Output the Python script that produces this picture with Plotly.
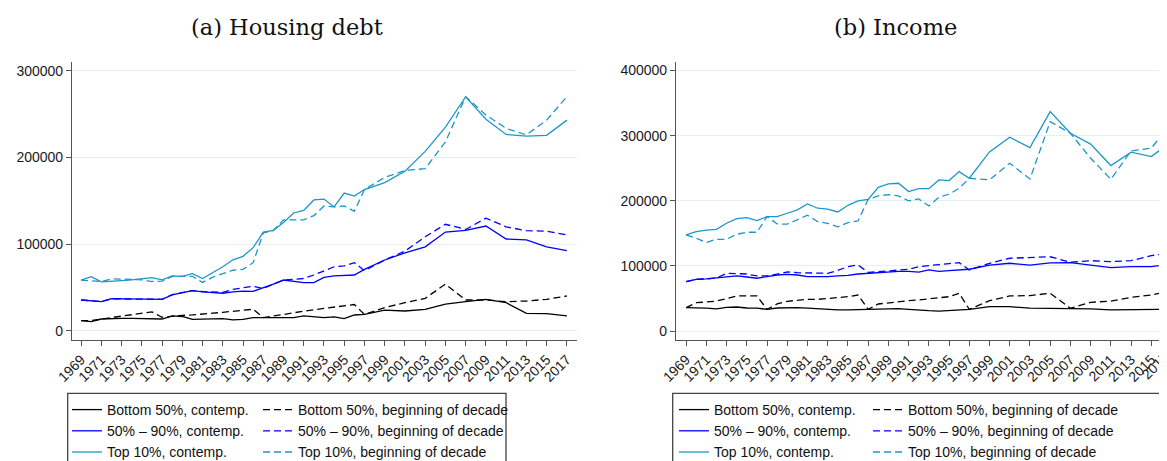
import plotly.graph_objects as go

# ---------------- data ----------------
years = list(range(1969, 1998)) + list(range(1999, 2018, 2))
tick_years = list(range(1969, 2018, 2))
tick_labels = [str(y) for y in tick_years]

series_names = ["Bottom 50%, contemp.", "50% \u2013 90%, contemp.", "Top 10%, contemp.",
                "Bottom 50%, beginning of decade", "50% \u2013 90%, beginning of decade",
                "Top 10%, beginning of decade"]

# (a) Housing debt, thousands
debt_bot_contemp = [11.9, 10.7, 13.8, 14.5, 14.6, 14.6, 14.6, 14.5, 13.8, 17.3, 16.7, 13.4, 13.8, 14.0, 14.2,
                    12.7, 13.4, 15.4, 15.4, 15.5, 15.5, 15.5, 17.3, 16.5, 15.5, 16.2, 14.2, 18.4, 19.2,
                    24.0, 23.0, 25.0, 31.0, 33.8, 36.5, 32.6, 20.4, 20.0, 17.3]
debt_mid_contemp = [35.7, 35.0, 33.8, 37.2, 37.0, 37.0, 37.0, 36.8, 36.5, 41.5, 44.0, 46.4, 45.0, 44.5, 43.5,
                    45.0, 46.0, 45.7, 49.5, 54.0, 58.7, 56.8, 55.7, 55.7, 61.8, 63.4, 64.0, 64.5, 71.0,
                    81.8, 90.0, 97.0, 114.0, 116.0, 121.0, 106.0, 105.0, 97.0, 92.5]
debt_top_contemp = [58.7, 62.6, 56.5, 57.0, 58.0, 59.0, 60.0, 61.5, 59.0, 63.5, 63.0, 66.0, 60.5, 67.0, 74.0,
                    82.0, 86.0, 96.0, 114.0, 116.0, 125.0, 136.0, 139.0, 151.0, 152.0, 143.0, 159.0, 155.5, 163.0,
                    171.0, 184.0, 207.0, 235.0, 270.0, 244.0, 226.5, 224.5, 225.5, 243.0]
debt_bot_begin = [11.9, 12.0, 13.8, 15.5, 16.7, 18.5, 20.0, 22.0, 15.8, 17.3, 18.0, 18.5, 19.2, 20.5, 21.5,
                  22.5, 24.0, 25.0, 15.5, 17.0, 19.0, 21.0, 23.0, 24.5, 26.0, 27.5, 28.5, 30.5, 19.0,
                  27.0, 32.6, 37.6, 54.0, 35.7, 35.7, 33.8, 34.5, 36.5, 40.3]
debt_mid_begin = [35.7, 34.5, 34.0, 37.0, 37.0, 37.0, 37.0, 37.0, 36.5, 42.0, 44.5, 46.5, 45.5, 45.0, 44.5,
                  48.0, 50.0, 51.5, 49.0, 54.0, 58.7, 59.5, 60.5, 64.5, 69.5, 74.0, 75.0, 78.7, 69.5,
                  81.8, 92.0, 108.6, 123.0, 117.0, 130.0, 120.0, 115.6, 115.0, 110.6]
debt_top_begin = [58.7, 58.0, 57.0, 60.0, 60.0, 59.5, 59.0, 57.0, 57.5, 63.0, 63.0, 63.0, 56.0, 62.0, 66.0,
                  70.0, 71.0, 78.7, 113.0, 116.0, 128.0, 128.0, 128.0, 133.0, 144.0, 143.0, 144.0, 138.0, 163.0,
                  177.0, 185.0, 187.0, 218.0, 270.0, 249.0, 233.5, 226.0, 243.0, 270.0]

# (b) Income, thousands
inc_bot_contemp = [35.8, 35.8, 35.0, 34.0, 36.3, 36.9, 35.3, 35.0, 33.3, 35.3, 35.8, 35.8, 35.0, 34.0, 32.3,
                   32.3, 32.3, 32.8, 34.0, 34.0, 35.0, 34.5, 33.3, 32.8, 31.2, 30.5, 31.2, 32.3, 33.3,
                   37.3, 37.3, 35.0, 35.0, 35.0, 34.0, 32.3, 32.8, 33.3, 33.3]
inc_mid_contemp = [75.8, 79.4, 79.9, 81.4, 83.4, 84.5, 82.9, 81.0, 83.4, 86.0, 87.0, 86.0, 83.4, 83.4, 83.4,
                   84.7, 85.5, 87.5, 88.5, 90.0, 91.0, 91.6, 91.6, 90.5, 93.7, 91.6, 92.6, 93.7, 94.8,
                   101.0, 104.0, 101.0, 104.5, 105.0, 101.5, 97.3, 98.8, 98.8, 103.0]
inc_top_contemp = [147.5, 152.5, 155.0, 156.0, 165.4, 172.5, 174.0, 169.4, 175.6, 175.6, 180.8, 186.0, 195.0,
                   188.5, 187.0, 182.8, 193.0, 199.7, 202.0, 220.7, 225.8, 226.8, 214.0, 218.6, 218.6, 232.0,
                   231.0, 244.7, 234.5, 275.0, 297.5, 281.6, 336.9, 303.6, 287.0, 254.0, 274.5, 267.7, 291.0]
inc_bot_begin = [35.8, 43.5, 44.5, 46.0, 49.7, 53.8, 53.8, 53.8, 33.3, 41.5, 45.6, 47.6, 48.6, 48.6, 49.7,
                 51.3, 52.7, 55.3, 33.3, 41.5, 43.5, 45.6, 46.6, 47.6, 49.2, 50.2, 52.7, 57.9, 33.3,
                 46.6, 53.8, 54.3, 57.9, 35.0, 44.0, 46.0, 51.7, 55.3, 62.0]
inc_mid_begin = [75.8, 79.4, 80.0, 81.4, 88.6, 88.6, 87.5, 84.5, 84.5, 87.5, 90.6, 89.5, 89.5, 88.6, 88.6,
                 93.0, 98.8, 101.4, 90.0, 91.0, 92.6, 93.7, 94.8, 98.8, 100.9, 102.0, 103.5, 105.0, 93.7,
                 104.0, 111.7, 112.7, 114.0, 105.5, 108.0, 106.5, 108.0, 115.7, 120.0]
inc_top_begin = [147.5, 142.4, 136.0, 140.8, 140.8, 148.5, 151.6, 151.6, 175.6, 164.4, 164.0, 170.5, 177.7,
                 168.0, 165.4, 160.0, 166.3, 169.0, 202.0, 207.4, 209.4, 207.4, 199.7, 202.8, 192.0, 205.4,
                 210.0, 219.0, 234.5, 232.0, 257.6, 233.5, 321.5, 303.6, 265.3, 233.0, 276.5, 280.6, 320.0]

yticks_a = [0, 100000, 200000, 300000]
yticks_b = [0, 100000, 200000, 300000, 400000]

# ---------------- layout geometry (page has an 8px body offset) ----------------
W, H = 1159, 453
MT, MB = 54, 121
PH = H - MT - MB
xa_dom = [64 / W, 569 / W]
xb_dom = [668 / W, 1.0]
xa_range = [1968.1, 2018.0]
xb_range = [1968.0, 2016.55]

colors = ["#000000", "#0000ff", "#1f96c8"]
LW = 1.3
DASH = "7px,4px"

def k(v):
    return [x * 1000 for x in v]

fig = go.Figure()

panel_a = [debt_bot_contemp, debt_mid_contemp, debt_top_contemp,
           debt_bot_begin, debt_mid_begin, debt_top_begin]
panel_b = [inc_bot_contemp, inc_mid_contemp, inc_top_contemp,
           inc_bot_begin, inc_mid_begin, inc_top_begin]

for p, (data, xa, ya, legs) in enumerate([(panel_a, "x", "y", ("legend", "legend2")),
                                          (panel_b, "x2", "y2", ("legend3", "legend4"))]):
    for i, vals in enumerate(data):
        contemp = i < 3
        fig.add_trace(go.Scatter(
            x=years, y=k(vals), mode="lines", name=series_names[i],
            line=dict(color=colors[i % 3], width=LW, dash=None if contemp else DASH),
            xaxis=xa, yaxis=ya, legend=legs[0] if contemp else legs[1],
            showlegend=True, hoverinfo="skip"))

tickfont = dict(family="Liberation Sans, Arial, sans-serif", size=14, color="#1a1a1a")
common_x = dict(tickmode="array", tickvals=tick_years, ticktext=tick_labels, tickangle=-45,
                showline=True, linecolor="#555555", linewidth=1.2, ticks="outside", ticklen=5,
                tickcolor="#555555", showgrid=False, zeroline=False, tickfont=tickfont)
common_y = dict(tickmode="array", showline=True, linecolor="#555555", linewidth=1.2,
                ticks="outside", ticklen=5, tickcolor="#555555", showgrid=True,
                gridcolor="#e6eef0", gridwidth=1, zeroline=False, tickfont=tickfont)

legend_font = dict(family="Liberation Sans, Arial, sans-serif", size=14, color="#111111")

def py(ypx):
    return (H - MB - ypx) / PH

def leg(xpx, ypx):
    return dict(x=xpx / W, y=py(ypx), xanchor="left", yanchor="top",
                orientation="v", bgcolor="rgba(0,0,0,0)", borderwidth=0, font=legend_font,
                tracegroupgap=0, itemclick=False, itemdoubleclick=False)

ly = 386
fig.update_layout(
    width=W, height=H,
    margin=dict(l=0, r=0, t=MT, b=MB, autoexpand=False),
    paper_bgcolor="white", plot_bgcolor="white",
    xaxis=dict(domain=xa_dom, range=xa_range, anchor="y", **common_x),
    yaxis=dict(domain=[0, 1], range=[-10400, 310000], anchor="x", tickvals=yticks_a,
               ticktext=[str(v) for v in yticks_a], **common_y),
    xaxis2=dict(domain=xb_dom, range=xb_range, anchor="y2", **common_x),
    yaxis2=dict(domain=[0, 1], range=[-13800, 413000], anchor="x2", tickvals=yticks_b,
                ticktext=[str(v) for v in yticks_b], **common_y),
    legend=leg(59, ly), legend2=leg(250, ly), legend3=leg(666, ly), legend4=leg(860, ly),
    showlegend=True,
)

# titles
title_font = dict(family="DejaVu Serif, serif", size=22.5, color="#111111")
for txt, xpx in [("(a) Housing debt", 279), ("(b) Income", 887)]:
    fig.add_annotation(text=txt, x=xpx / W, y=py(19), xref="paper", yref="paper",
                       xanchor="center", yanchor="middle", showarrow=False, font=title_font)

# legend boxes
for x0, x1 in [(59.7 / W, 498 / W), (664.7 / W, 1.05)]:
    fig.add_shape(type="rect", xref="paper", yref="paper", x0=x0, x1=x1, y0=py(385.3), y1=py(480),
                  line=dict(color="#444444", width=1.3), fillcolor="rgba(0,0,0,0)", layer="above")

# partially visible last tick label of panel (b), derived from the axis scale
frac = (tick_years[-1] - xb_range[0]) / (xb_range[1] - xb_range[0])
px_last = xb_dom[0] + frac * (xb_dom[1] - xb_dom[0])
fig.add_annotation(text=tick_labels[-1], x=px_last + 3 / W, y=py(H - MB + 7), xref="paper", yref="paper",
                   xanchor="right", yanchor="top", showarrow=False, textangle=-45, font=tickfont)

fig.write_html("out.html")
